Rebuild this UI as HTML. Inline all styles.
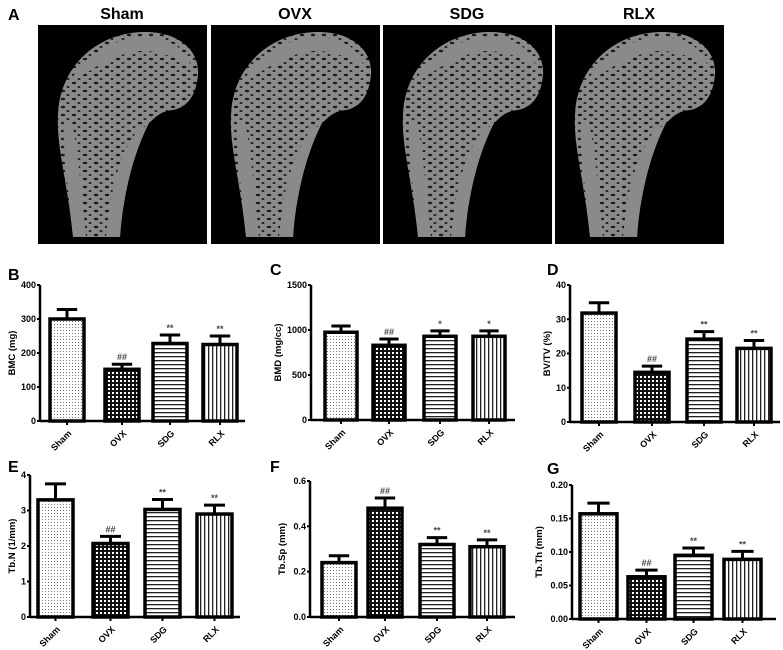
<!DOCTYPE html>
<html><head><meta charset="utf-8"><style>
body{margin:0;background:#fff;}
svg{display:block;font-family:"Liberation Sans",sans-serif;}
</style></head><body>
<svg id="fig" width="783" height="650" viewBox="0 0 783 650">
<defs>
<pattern id="pSham" width="3" height="3" patternUnits="userSpaceOnUse"><rect width="3" height="3" fill="#fff"/><rect width="1" height="1" fill="#777"/></pattern>
<pattern id="pOVX" width="4" height="4" patternUnits="userSpaceOnUse"><rect width="4" height="4" fill="#111"/><rect x="0" y="0" width="2" height="2" fill="#fff"/></pattern>
<pattern id="pSDG" width="4" height="4" patternUnits="userSpaceOnUse"><rect width="4" height="4" fill="#fff"/><rect y="0" width="4" height="1.3" fill="#222"/></pattern>
<pattern id="pRLX" width="4" height="4" patternUnits="userSpaceOnUse"><rect width="4" height="4" fill="#fff"/><rect x="0" width="1.3" height="4" fill="#222"/></pattern>
<pattern id="pBone" width="11" height="8" patternUnits="userSpaceOnUse"><rect width="11" height="8" fill="#8a8a8a"/><ellipse cx="3" cy="2" rx="2.2" ry="1.2" fill="#1a1a1a"/><ellipse cx="8" cy="6" rx="1.5" ry="1" fill="#222"/></pattern>
</defs>
<text x="8" y="20" font-size="16" font-weight="bold">A</text>
<g id="bones"></g>
<g id="charts"></g>
</svg>
<script>
const NS="http://www.w3.org/2000/svg";
function mk(tag,attrs,parent){const e=document.createElementNS(NS,tag);for(const k in attrs)e.setAttribute(k,attrs[k]);parent.appendChild(e);return e;}
const groups=["Sham","OVX","SDG","RLX"];
const fills=["url(#pSham)","url(#pOVX)","url(#pSDG)","url(#pRLX)"];
const boneX=[38,211,383,555];
const bonesG=document.getElementById('bones');
groups.forEach((g,i)=>{
  const x0=boneX[i];
  const t=mk('text',{x:x0+84,y:19,'font-size':16,'font-weight':'bold','text-anchor':'middle'},bonesG);t.textContent=g;
  
  
  const r=mk('rect',{x:x0,y:25,width:169,height:219,fill:'#000'},bonesG);
  
  
  const p=mk('path',{transform:`translate(${x0},25)`,d:'M35,212 C30,160 18,120 20,90 C22,40 60,8 105,7 C140,6 162,25 160,50 C158,70 150,82 135,85 C125,86 118,90 110,100 C95,130 85,170 82,212 Z',fill:'url(#pBone)'},bonesG);
  
  
  mk('path',{transform:`translate(${x0},25)`,d:'M35,212 C30,160 24,120 26,95 L34,95 C40,130 44,170 48,212 Z M68,212 C72,170 80,130 100,105 L110,100 C95,130 85,170 82,212 Z M30,60 C45,30 80,12 105,12 C135,12 152,28 153,45 C140,30 110,22 90,28 C65,35 45,50 30,60 Z',fill:'#8a8a8a'},bonesG);
});
const bmcVals=[300,152,228,225], bmcErr=[28,15,25,25];
const bmdVals=[975,830,930,930], bmdErr=[70,70,60,60];
const bvVals=[31.8,14.5,24.2,21.5], bvErr=[3,1.8,2.2,2.3];
const tbnVals=[3.3,2.07,3.03,2.9], tbnErr=[0.45,0.2,0.28,0.25];
const tbspVals=[0.24,0.48,0.32,0.31], tbspErr=[0.03,0.045,0.03,0.03];
const tbthVals=[0.157,0.063,0.095,0.089], tbthErr=[0.016,0.01,0.011,0.012];
const bmcTicks=["0","100","200","300","400"];
const bmdTicks=["0","500","1000","1500"];
const bvTicks=["0","10","20","30","40"];
const tbnTicks=["0","1","2","3","4"];
const tbspTicks=["0.0","0.2","0.4","0.6"];
const tbthTicks=["0.00","0.05","0.10","0.15","0.20"];
const sig=[
 ["","##","**","**"],["","##","*","*"],["","##","**","**"],
 ["","##","**","**"],["","##","**","**"],["","##","**","**"]];
const panels=[
 {L:"B",lab:"BMC (mg)",vals:bmcVals,err:bmcErr,ticks:bmcTicks,max:400,ax:40,y0:421,y1:285,bx:[50,105,153,203],bw:34,xe:245,lx:8,ly:280},
 {L:"C",lab:"BMD (mg/cc)",vals:bmdVals,err:bmdErr,ticks:bmdTicks,max:1500,ax:311,y0:420,y1:285,bx:[325,373,424,473],bw:32,xe:515,lx:270,ly:275},
 {L:"D",lab:"BV/TV (%)",vals:bvVals,err:bvErr,ticks:bvTicks,max:40,ax:570,y0:422,y1:285,bx:[582,635,687,737],bw:34,xe:780,lx:547,ly:275},
 {L:"E",lab:"Tb.N (1/mm)",vals:tbnVals,err:tbnErr,ticks:tbnTicks,max:4,ax:30,y0:617,y1:475,bx:[38,93,145,197],bw:35,xe:240,lx:8,ly:472},
 {L:"F",lab:"Tb.Sp (mm)",vals:tbspVals,err:tbspErr,ticks:tbspTicks,max:0.6,ax:310,y0:617,y1:481,bx:[322,368,420,470],bw:34,xe:515,lx:270,ly:472},
 {L:"G",lab:"Tb.Th (mm)",vals:tbthVals,err:tbthErr,ticks:tbthTicks,max:0.2,ax:572,y0:619,y1:485,bx:[580,628,675,724],bw:37,xe:776,lx:547,ly:474}
];
const C=document.getElementById('charts');
panels.forEach((P,pi)=>{
  const g=mk('g',{},C);
  
  
  const y=v=>P.y0-(v/P.max)*(P.y0-P.y1);
  const lt=mk('text',{x:P.lx,y:P.ly,'font-size':16,'font-weight':'bold'},g);lt.textContent=P.L;
  
  
  P.vals.forEach((v,i)=>{
    const bx=P.bx[i],bw=P.bw,top=y(v),cx=bx+bw/2;
    const et=y(v+P.err[i]);
    mk('line',{x1:cx,y1:top,x2:cx,y2:et,stroke:'#000','stroke-width':3},g);
    mk('line',{x1:cx-bw*0.3,y1:et,x2:cx+bw*0.3,y2:et,stroke:'#000','stroke-width':3},g);
    const r=mk('rect',{x:bx,y:top,width:bw,height:P.y0-top,fill:fills[i],stroke:'#000','stroke-width':3.5},g);
    
    
    if(sig[pi][i]){const s=mk('text',{x:cx,y:et-4,'font-size':9,'font-weight':'bold','text-anchor':'middle',fill:'#444'},g);s.textContent=sig[pi][i];
      
      }
    mk('line',{x1:cx,y1:P.y0,x2:cx,y2:P.y0+4,stroke:'#000','stroke-width':2},g);
    const ct=mk('text',{transform:`translate(${cx+5},${P.y0+13}) rotate(-45)`,'font-size':9,'font-weight':'bold','text-anchor':'end'},g);ct.textContent=groups[i];
    
    
  });
  mk('line',{x1:P.ax,y1:P.y1,x2:P.ax,y2:P.y0+1,stroke:'#000','stroke-width':2.5},g);
  mk('line',{x1:P.ax,y1:P.y0,x2:P.xe,y2:P.y0,stroke:'#000','stroke-width':2.5},g);
  const n=P.ticks.length-1;
  P.ticks.forEach((t,k)=>{
    const ty=y(P.max*k/n);
    mk('line',{x1:P.ax-3,y1:ty,x2:P.ax,y2:ty,stroke:'#000','stroke-width':2},g);
    const tt=mk('text',{x:P.ax-4,y:ty+3,'font-size':9,'font-weight':'bold','text-anchor':'end'},g);tt.textContent=t;
    
    
  });
  const maxw=P.ticks[n].length*5;
  const yl=mk('text',{transform:`translate(${P.ax-maxw-10},${(P.y0+P.y1)/2}) rotate(-90)`,'font-size':9.5,'font-weight':'bold','text-anchor':'middle'},g);yl.textContent=P.lab;
  
  
});
</script>
</body></html>
